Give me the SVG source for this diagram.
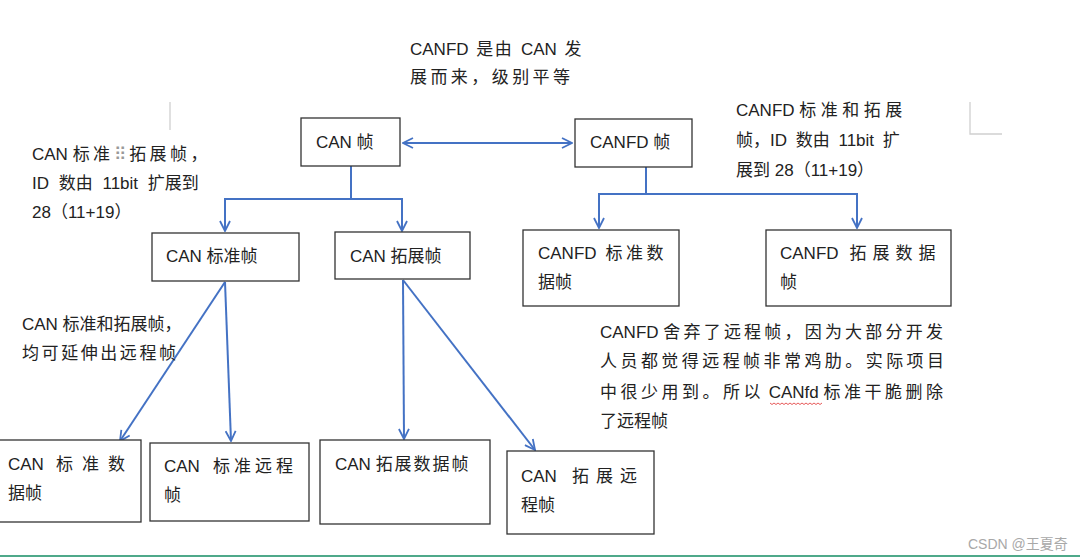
<svg xmlns="http://www.w3.org/2000/svg" width="1080" height="560" viewBox="0 0 1080 560">
<style>
text{font-family:"Liberation Sans","Noto Sans CJK SC",sans-serif;font-size:17px;fill:#222}
.box{fill:#fff;stroke:#333;stroke-width:1.3}
.conn{fill:none;stroke:#4472C4;stroke-width:2}
.mark{stroke:#d0d0d0;stroke-width:1.3;fill:none}
</style>
<defs>
<marker id="ah" viewBox="0 0 12 12" refX="11" refY="6" markerWidth="12" markerHeight="12" markerUnits="userSpaceOnUse" orient="auto-start-reverse">
<path d="M1,1 L11,6 L1,11" fill="none" stroke="#4472C4" stroke-width="1.8"/>
</marker>
</defs>
<rect width="1080" height="560" fill="#fff"/>
<path class="mark" d="M170,102 V130"/>
<path class="mark" d="M970,102 V134 H1002"/>
<g id="connectors">
<path class="conn" d="M403,143 H572" marker-start="url(#ah)" marker-end="url(#ah)"/>
<path class="conn" d="M351,166 V199 H225 V231" marker-end="url(#ah)"/>
<path class="conn" d="M351,199 H402 V231" marker-end="url(#ah)"/>
<path class="conn" d="M646,166 V194 H599 V228" marker-end="url(#ah)"/>
<path class="conn" d="M646,194 H857 V228" marker-end="url(#ah)"/>
<path class="conn" d="M225,282 L120,441" marker-end="url(#ah)"/>
<path class="conn" d="M225,282 L231,441" marker-end="url(#ah)"/>
<path class="conn" d="M403,280 L404,439" marker-end="url(#ah)"/>
<path class="conn" d="M403,280 L535,450" marker-end="url(#ah)"/>
</g>
<g id="can">
<rect class="box" x="301" y="118" width="99" height="48"/>
<text x="316" y="148">CAN 帧</text>
</g>
<g id="canfd">
<rect class="box" x="575" y="119" width="117" height="48"/>
<text x="590" y="148">CANFD 帧</text>
</g>
<g id="can-std">
<rect class="box" x="152" y="233" width="147" height="48"/>
<text x="166" y="262">CAN 标准帧</text>
</g>
<g id="can-ext">
<rect class="box" x="335" y="232" width="135" height="47"/>
<text x="350" y="262">CAN 拓展帧</text>
</g>
<g id="canfd-std-data">
<rect class="box" x="523" y="230" width="156" height="76"/>
<text x="538" y="259">CANFD<tspan dx="9" letter-spacing="3.5">标准数</tspan></text>
<text x="538" y="288">据帧</text>
</g>
<g id="canfd-ext-data">
<rect class="box" x="766" y="230" width="185" height="76"/>
<text x="780" y="259">CANFD<tspan dx="11" letter-spacing="6">拓展数据</tspan></text>
<text x="780" y="288">帧</text>
</g>
<g id="can-std-data">
<rect class="box" x="-1" y="440" width="142" height="82"/>
<text x="8" y="470">CAN<tspan dx="12" letter-spacing="9">标准数</tspan></text>
<text x="8" y="499">据帧</text>
</g>
<g id="can-std-remote">
<rect class="box" x="150" y="443" width="159" height="78"/>
<text x="164" y="472">CAN<tspan dx="13" letter-spacing="4">标准远程</tspan></text>
<text x="164" y="501">帧</text>
</g>
<g id="can-ext-data">
<rect class="box" x="320" y="440" width="170" height="84"/>
<text x="335" y="470">CAN <tspan letter-spacing="2">拓展数据帧</tspan></text>
</g>
<g id="can-ext-remote">
<rect class="box" x="507" y="451" width="147" height="83"/>
<text x="521" y="482">CAN<tspan dx="15" letter-spacing="7">拓展远</tspan></text>
<text x="521" y="511">程帧</text>
</g>
<g id="notes">
<text x="410" y="55" word-spacing="3">CANFD <tspan letter-spacing="1.5">是由</tspan> CAN 发</text>
<text x="410" y="83" textLength="160" lengthAdjust="spacing">展而来，级别平等</text>
<text x="32" y="160">CAN <tspan letter-spacing="3.5">标准<tspan fill="#999">⠿</tspan>拓展帧，</tspan></text>
<text x="32" y="189" word-spacing="5">ID 数由 11bit 扩展到</text>
<text x="32" y="218">28（11+19）</text>
<text x="736" y="116">CANFD <tspan letter-spacing="4.5">标准和拓展</tspan></text>
<text x="736" y="146" word-spacing="4">帧，ID 数由 11bit 扩</text>
<text x="736" y="176">展到 28（11+19）</text>
<text x="22" y="330">CAN 标准和拓展帧，</text>
<text x="22" y="359" textLength="154" lengthAdjust="spacing">均可延伸出远程帧</text>
<text x="600" y="338">CANFD <tspan letter-spacing="3.2">舍弃了远程帧，因为大部分开发</tspan></text>
<text x="600" y="367" textLength="344" lengthAdjust="spacing">人员都觉得远程帧非常鸡肋。实际项目</text>
<text x="600" y="398"><tspan letter-spacing="3.5">中很少用到。所以</tspan> CANfd <tspan letter-spacing="3.5">标准干脆删除</tspan></text>
<text x="600" y="427">了远程帧</text>
<path d="M770,403 l2,1.5 l2,-1.5 l2,1.5 l2,-1.5 l2,1.5 l2,-1.5 l2,1.5 l2,-1.5 l2,1.5 l2,-1.5 l2,1.5 l2,-1.5 l2,1.5 l2,-1.5 l2,1.5 l2,-1.5 l2,1.5 l2,-1.5 l2,1.5 l2,-1.5 l2,1.5 l2,-1.5 l2,1.5 l2,-1.5 l2,1.5 l2,-1.5" fill="none" stroke="#e03030" stroke-width="0.8"/>
</g>
<text x="968" y="549" style="font-size:14px;fill:#a8a8a8">CSDN @王夏奇</text>
<path d="M0,556 H1080" stroke="#4fa98a" stroke-width="2"/>
</svg>
